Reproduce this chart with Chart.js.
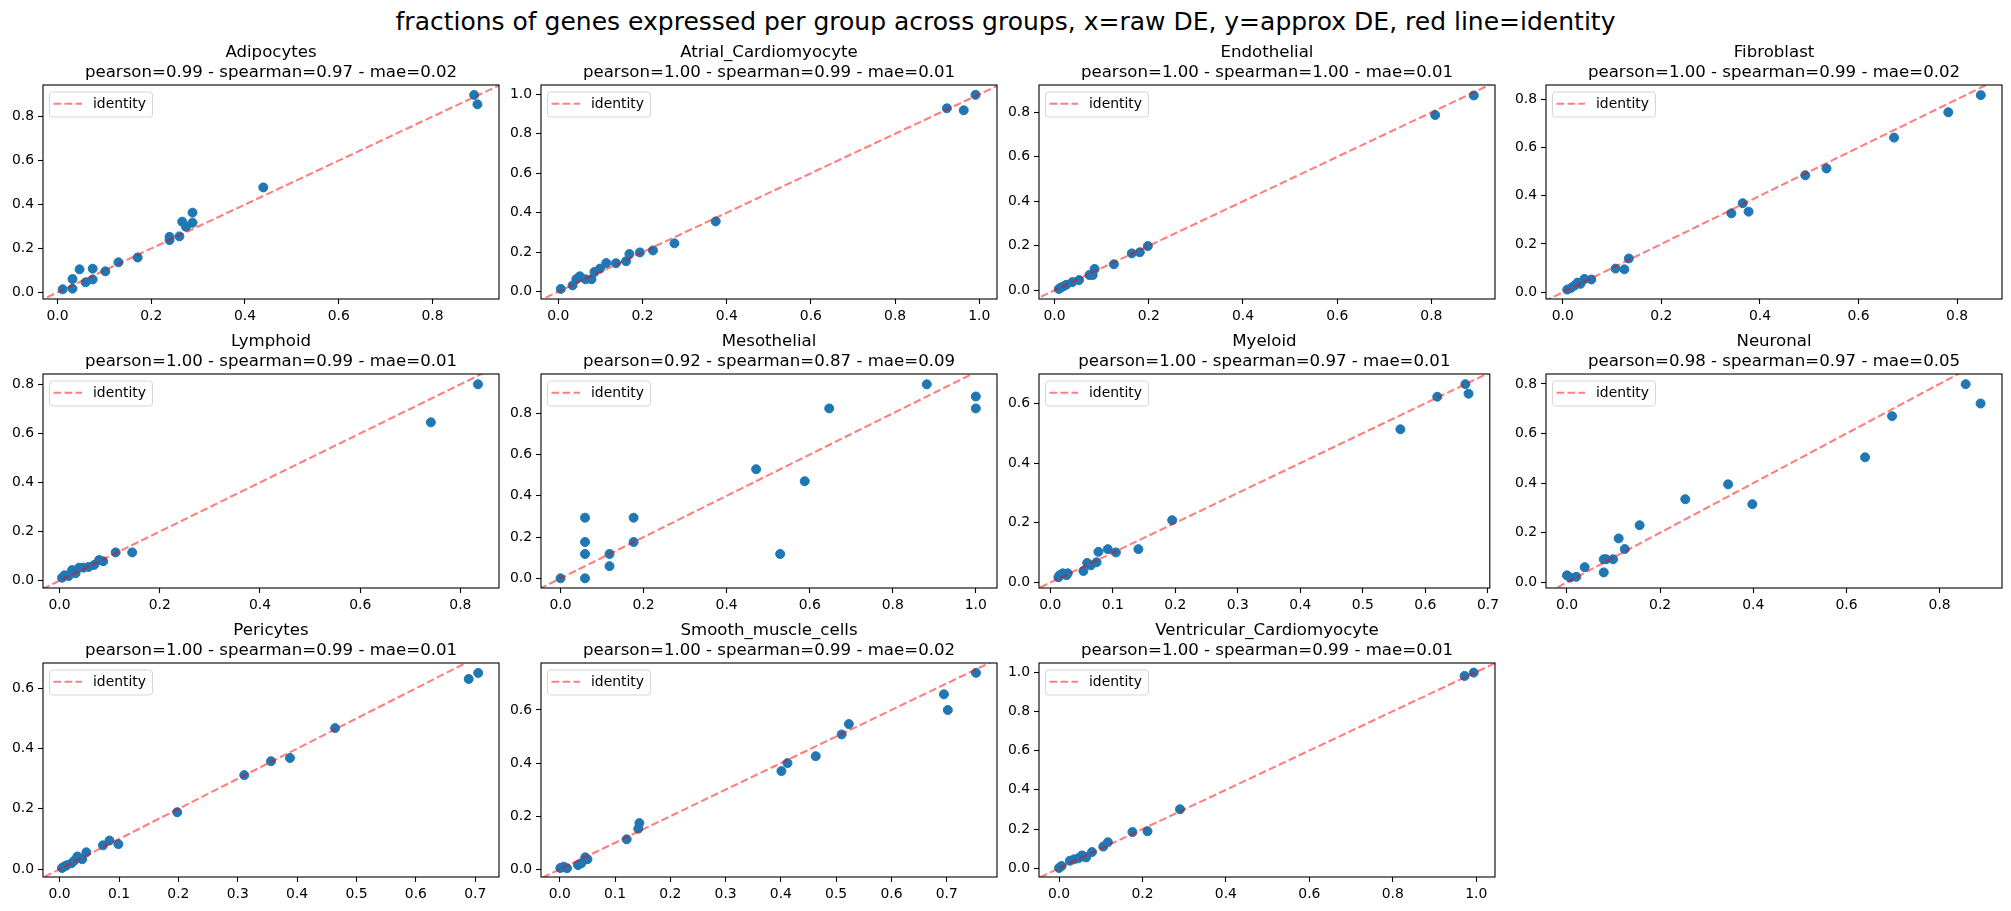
<!DOCTYPE html>
<html lang="en">
<head>
  <meta charset="UTF-8" />
  <title>fractions of genes expressed per group</title>
  <script src="https://cdn.jsdelivr.net/npm/chart.js"></script>
  <style>
    body {
      margin: 0;
      background: #fff;
      font-family: "DejaVu Sans", sans-serif;
      overflow: hidden;
    }
    #fig {
      position: relative;
      width: 2011px;
      height: 911px;
    }
    #suptitle {
      position: absolute;
      left: 0;
      width: 2011px;
      top: 7px;
      text-align: center;
      font-size: 25px;
      line-height: 30px;
      color: #000;
      white-space: nowrap;
    }
    canvas {
      position: absolute;
    }
  </style>
</head>
<body>
  <div id="fig">
    <div id="suptitle">fractions of genes expressed per group across groups, x=raw DE, y=approx DE, red line=identity</div>
  </div>

  <script>
    // --- groups and their stats (as printed in the subplot titles)
    const groups = ['Adipocytes', 'Atrial_Cardiomyocyte', 'Endothelial', 'Fibroblast',
                    'Lymphoid', 'Mesothelial', 'Myeloid', 'Neuronal',
                    'Pericytes', 'Smooth_muscle_cells', 'Ventricular_Cardiomyocyte'];
    const pearson  = [0.99, 1.00, 1.00, 1.00, 1.00, 0.92, 1.00, 0.98, 1.00, 1.00, 1.00];
    const spearman = [0.97, 0.99, 1.00, 0.99, 0.99, 0.87, 0.97, 0.97, 0.99, 0.99, 0.99];
    const mae      = [0.02, 0.01, 0.01, 0.02, 0.01, 0.09, 0.01, 0.05, 0.01, 0.02, 0.01];

    // --- raw DE (x) vs approx DE (y) per group
    const adipocytesX = [0.011, 0.032, 0.032, 0.047, 0.060, 0.075, 0.075, 0.102, 0.130, 0.171, 0.239, 0.239, 0.260, 0.266, 0.274, 0.288, 0.288, 0.439, 0.889, 0.896];
    const adipocytesY = [0.014, 0.061, 0.017, 0.105, 0.046, 0.108, 0.059, 0.096, 0.137, 0.159, 0.253, 0.238, 0.255, 0.322, 0.299, 0.363, 0.317, 0.478, 0.899, 0.856];

    const atrialX = [0.006, 0.034, 0.043, 0.051, 0.065, 0.079, 0.086, 0.099, 0.114, 0.137, 0.161, 0.169, 0.194, 0.225, 0.276, 0.374, 0.923, 0.963, 0.991];
    const atrialY = [0.014, 0.032, 0.064, 0.078, 0.063, 0.063, 0.100, 0.117, 0.145, 0.144, 0.154, 0.191, 0.199, 0.209, 0.245, 0.356, 0.929, 0.919, 0.997];

    const endothelialX = [0.009, 0.013, 0.019, 0.025, 0.038, 0.052, 0.074, 0.081, 0.085, 0.126, 0.164, 0.181, 0.198, 0.808, 0.890];
    const endothelialY = [0.006, 0.012, 0.018, 0.025, 0.037, 0.046, 0.069, 0.069, 0.096, 0.117, 0.166, 0.171, 0.199, 0.788, 0.876];

    const fibroblastX = [0.009, 0.017, 0.024, 0.030, 0.036, 0.044, 0.058, 0.107, 0.125, 0.134, 0.342, 0.365, 0.377, 0.492, 0.535, 0.672, 0.782, 0.848];
    const fibroblastY = [0.011, 0.018, 0.028, 0.040, 0.035, 0.055, 0.053, 0.098, 0.095, 0.140, 0.327, 0.369, 0.334, 0.485, 0.513, 0.641, 0.746, 0.817];

    const lymphoidX = [0.005, 0.010, 0.018, 0.025, 0.032, 0.039, 0.048, 0.058, 0.069, 0.079, 0.087, 0.112, 0.145, 0.741, 0.835];
    const lymphoidY = [0.012, 0.022, 0.019, 0.043, 0.030, 0.053, 0.053, 0.056, 0.064, 0.084, 0.079, 0.115, 0.115, 0.645, 0.800];

    const mesothelialX = [0.000, 0.059, 0.059, 0.059, 0.059, 0.118, 0.118, 0.176, 0.176, 0.471, 0.529, 0.588, 0.647, 0.882, 1.000, 1.000];
    const mesothelialY = [0.000, 0.000, 0.118, 0.176, 0.294, 0.118, 0.059, 0.176, 0.294, 0.529, 0.118, 0.471, 0.824, 0.941, 0.882, 0.824];

    const myeloidX = [0.013, 0.015, 0.020, 0.026, 0.028, 0.053, 0.059, 0.065, 0.074, 0.077, 0.092, 0.105, 0.141, 0.195, 0.560, 0.619, 0.664, 0.669];
    const myeloidY = [0.018, 0.025, 0.031, 0.025, 0.031, 0.039, 0.066, 0.058, 0.068, 0.103, 0.112, 0.101, 0.112, 0.209, 0.513, 0.622, 0.664, 0.632];

    const neuronalX = [0.000, 0.007, 0.020, 0.038, 0.079, 0.079, 0.084, 0.099, 0.111, 0.124, 0.156, 0.254, 0.346, 0.398, 0.640, 0.698, 0.856, 0.888];
    const neuronalY = [0.028, 0.019, 0.022, 0.061, 0.040, 0.093, 0.093, 0.093, 0.177, 0.134, 0.230, 0.335, 0.395, 0.315, 0.504, 0.670, 0.799, 0.721];

    const pericytesX = [0.004, 0.008, 0.012, 0.020, 0.025, 0.030, 0.038, 0.045, 0.073, 0.084, 0.099, 0.198, 0.311, 0.356, 0.388, 0.464, 0.689, 0.705];
    const pericytesY = [0.004, 0.009, 0.013, 0.020, 0.029, 0.042, 0.033, 0.056, 0.079, 0.095, 0.083, 0.189, 0.312, 0.358, 0.369, 0.468, 0.631, 0.651];

    const smoothX = [0.001, 0.007, 0.013, 0.033, 0.039, 0.046, 0.050, 0.121, 0.142, 0.144, 0.401, 0.412, 0.463, 0.510, 0.523, 0.695, 0.702, 0.753];
    const smoothY = [0.005, 0.010, 0.004, 0.016, 0.023, 0.045, 0.038, 0.113, 0.153, 0.174, 0.370, 0.400, 0.426, 0.508, 0.547, 0.659, 0.600, 0.740];

    const ventricularX = [0.000, 0.006, 0.026, 0.036, 0.046, 0.055, 0.060, 0.065, 0.079, 0.106, 0.117, 0.176, 0.212, 0.290, 0.972, 0.994];
    const ventricularY = [0.002, 0.012, 0.039, 0.046, 0.051, 0.066, 0.060, 0.056, 0.083, 0.111, 0.133, 0.185, 0.189, 0.301, 0.980, 0.997];

    // --- axis limits (matplotlib auto margins) and tick labels
    const xLo = [-0.031, -0.041, -0.033, -0.034, -0.033, -0.047, -0.018, -0.045, -0.028, -0.034, -0.048];
    const xHi = [0.942, 1.042, 0.935, 0.891, 0.877, 1.051, 0.703, 0.934, 0.740, 0.791, 1.045];
    const yLo = [-0.030, -0.037, -0.039, -0.028, -0.030, -0.047, -0.018, -0.023, -0.026, -0.029, -0.044];
    const yHi = [0.944, 1.047, 0.923, 0.859, 0.842, 0.991, 0.698, 0.840, 0.684, 0.777, 1.046];

    const ticks06 = [0, 0.2, 0.4, 0.6];
    const ticks07 = [0, 0.1, 0.2, 0.3, 0.4, 0.5, 0.6, 0.7];
    const ticks08 = [0, 0.2, 0.4, 0.6, 0.8];
    const ticks10 = [0, 0.2, 0.4, 0.6, 0.8, 1.0];
    const xTickSets = [ticks08, ticks10, ticks08, ticks08, ticks08, ticks10, ticks07, ticks08, ticks07, ticks07, ticks10];
    const yTickSets = [ticks08, ticks10, ticks08, ticks08, ticks08, ticks08, ticks06, ticks08, ticks06, ticks06, ticks10];

    // identity line end points (clipped to the axes)
    const identityEnds = [-1, 2];

    const xValues = [adipocytesX, atrialX, endothelialX, fibroblastX, lymphoidX, mesothelialX,
                     myeloidX, neuronalX, pericytesX, smoothX, ventricularX];
    const yValues = [adipocytesY, atrialY, endothelialY, fibroblastY, lymphoidY, mesothelialY,
                     myeloidY, neuronalY, pericytesY, smoothY, ventricularY];

    // --- layout of the 3x4 grid (pixel boxes of the axes)
    const colLeft = [43, 541, 1039, 1546];
    const rowTop = [85, 374, 663];
    const AX_W = 456, AX_H = 214;
    const Y_W = 44, TOP_PAD = 46, X_H = 28, RIGHT_PAD = 8;

    const BLUE = '#1f77b4';
    const RED = 'rgba(255, 0, 0, 0.5)';
    const FONT = '"DejaVu Sans", sans-serif';

    Chart.defaults.font.family = FONT;
    Chart.defaults.color = '#000';

    // frame, titles and the "identity" legend, drawn like matplotlib
    const decorations = {
      id: 'decorations',
      afterDatasetsDraw(chart) {
        const { ctx, chartArea: a } = chart;
        const i = chart.options.plugins.decorations.index;
        ctx.save();

        // axes frame
        ctx.strokeStyle = '#000';
        ctx.lineWidth = 1.1;
        ctx.strokeRect(a.left, a.top, a.right - a.left, a.bottom - a.top);

        // two-line title
        const cx = (a.left + a.right) / 2;
        ctx.fillStyle = '#000';
        ctx.font = '16.6px ' + FONT;
        ctx.textAlign = 'center';
        ctx.textBaseline = 'alphabetic';
        ctx.fillText(groups[i], cx, a.top - 28.3);
        ctx.fillText('pearson=' + pearson[i].toFixed(2) + ' - spearman=' + spearman[i].toFixed(2) +
                     ' - mae=' + mae[i].toFixed(2), cx, a.top - 8.3);

        // legend
        const bx = a.left + 6.5, by = a.top + 7, bw = 103, bh = 25, r = 3;
        ctx.beginPath();
        ctx.moveTo(bx + r, by);
        ctx.arcTo(bx + bw, by, bx + bw, by + bh, r);
        ctx.arcTo(bx + bw, by + bh, bx, by + bh, r);
        ctx.arcTo(bx, by + bh, bx, by, r);
        ctx.arcTo(bx, by, bx + bw, by, r);
        ctx.closePath();
        ctx.fillStyle = 'rgba(255, 255, 255, 0.8)';
        ctx.fill();
        ctx.strokeStyle = 'rgba(204, 204, 204, 0.8)';
        ctx.lineWidth = 1;
        ctx.stroke();

        ctx.beginPath();
        ctx.setLineDash([7.7, 3.3]);
        ctx.strokeStyle = RED;
        ctx.lineWidth = 2.1;
        ctx.moveTo(a.left + 10.5, a.top + 18.7);
        ctx.lineTo(a.left + 39, a.top + 18.7);
        ctx.stroke();
        ctx.setLineDash([]);

        ctx.fillStyle = '#000';
        ctx.font = '13.9px ' + FONT;
        ctx.textAlign = 'left';
        ctx.textBaseline = 'middle';
        ctx.fillText('identity', a.left + 50, a.top + 19);
        ctx.restore();
      }
    };

    const fig = document.getElementById('fig');

    groups.forEach((name, i) => {
      const col = i % 4, row = Math.floor(i / 4);
      const canvas = document.createElement('canvas');
      const w = Y_W + AX_W + RIGHT_PAD, h = TOP_PAD + AX_H + X_H;
      canvas.width = w;
      canvas.height = h;
      canvas.style.left = (colLeft[col] - Y_W) + 'px';
      canvas.style.top = (rowTop[row] - TOP_PAD) + 'px';
      fig.appendChild(canvas);

      const points = xValues[i].map((x, k) => ({ x: x, y: yValues[i][k] }));
      const identity = identityEnds.map(v => ({ x: v, y: v }));

      const tickStyle = {
        display: true,
        drawOnChartArea: false,
        drawTicks: true,
        tickLength: 5,
        tickWidth: 1.1,
        tickColor: '#000'
      };

      new Chart(canvas.getContext('2d'), {
        type: 'scatter',
        data: {
          datasets: [{
            label: 'identity',
            data: identity,
            showLine: true,
            borderColor: RED,
            borderWidth: 2.1,
            borderDash: [7.7, 3.3],
            pointRadius: 0,
            order: 0
          }, {
            label: name,
            data: points,
            backgroundColor: BLUE,
            borderColor: BLUE,
            borderWidth: 1,
            pointRadius: 4.5,
            order: 1
          }]
        },
        options: {
          responsive: false,
          animation: false,
          layout: { padding: { top: TOP_PAD, right: RIGHT_PAD, left: 0, bottom: 0 } },
          scales: {
            x: {
              type: 'linear',
              min: xLo[i],
              max: xHi[i],
              grid: tickStyle,
              border: { display: false },
              ticks: {
                padding: 4,
                font: { size: 13.9 },
                color: '#000',
                callback: v => v.toFixed(1)
              },
              afterBuildTicks: s => { s.ticks = xTickSets[i].map(v => ({ value: v })); },
              afterFit: s => { s.height = X_H; }
            },
            y: {
              type: 'linear',
              min: yLo[i],
              max: yHi[i],
              grid: tickStyle,
              border: { display: false },
              ticks: {
                padding: 4,
                font: { size: 13.9 },
                color: '#000',
                callback: v => v.toFixed(1)
              },
              afterBuildTicks: s => { s.ticks = yTickSets[i].map(v => ({ value: v })); },
              afterFit: s => { s.width = Y_W; }
            }
          },
          plugins: {
            legend: { display: false },
            tooltip: { enabled: false },
            decorations: { index: i }
          }
        },
        plugins: [decorations]
      });
    });
  </script>
</body>
</html>
